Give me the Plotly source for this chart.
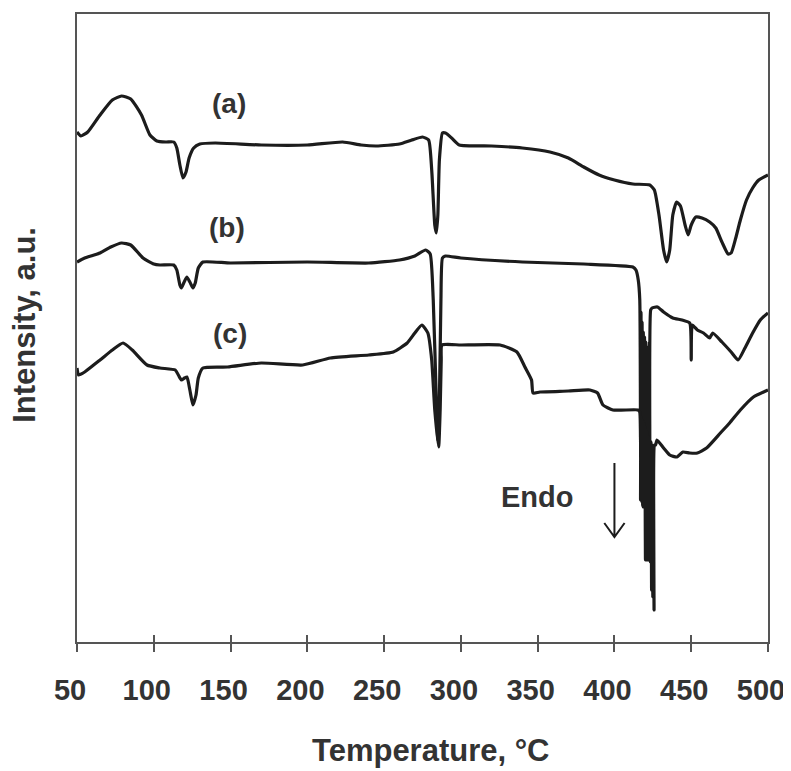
import plotly.graph_objects as go

# ---- data (temperature in °C, intensity in arbitrary units) ----
temp_a = [50, 52.5, 57, 65, 73, 79, 85, 92, 97.5, 102, 108, 113, 115, 117, 119, 121, 123, 126, 130, 140,
          170, 200, 223, 235, 245, 260, 268, 275, 279, 281, 283, 284, 285, 286, 288, 290, 294, 299, 320, 340,
          358, 370, 380, 390, 400, 412, 423, 426, 429, 432, 434, 436, 438, 440.5, 443, 446, 448, 450, 453, 457,
          462, 466, 470, 474, 476, 479, 482, 486, 490, 494, 500]
int_a = [51.0, 50.6, 51.0, 52.7, 54.2, 54.6, 54.3, 52.7, 50.7, 50.1, 50.0, 50.0, 49.4, 47.7, 46.4, 47.0, 48.4, 49.4, 49.8, 49.9,
         49.7, 49.7, 50.0, 49.7, 49.6, 49.8, 50.2, 50.5, 50.2, 47.2, 41.7, 40.9, 42.7, 48.2, 50.9, 50.9, 50.4, 49.7, 49.6, 49.4,
         49.0, 48.4, 47.5, 46.7, 46.2, 45.8, 45.7, 45.2, 42.7, 39.2, 38.0, 39.2, 42.7, 44.0, 43.6, 41.7, 40.7, 41.7, 42.5, 42.4,
         42.0, 41.4, 40.0, 38.8, 38.9, 40.4, 42.2, 44.2, 45.4, 46.2, 46.7]

temp_b = [50, 55, 65, 72, 79, 85, 93, 100, 104, 113, 115, 117, 118, 119.5, 121.5, 123.5, 125.5, 127, 129, 132,
          150, 200, 240, 260, 270, 277, 280, 282, 284, 285, 286, 287, 288, 290, 300, 340, 380, 412, 414, 415.5,
          416.5, 417, 417.3, 417.6, 418, 418.4, 418.8, 419.2, 419.6, 420, 420.4, 420.8, 421.2, 421.6, 422, 422.4,
          422.8, 423.2, 423.6, 424.5, 428, 432, 438, 444, 449, 450, 450.7, 454,
          458, 462, 464, 470, 476, 480.5, 485, 490, 495, 500]
int_b = [38.0, 38.4, 38.9, 39.5, 39.9, 39.7, 38.4, 37.8, 37.7, 37.7, 37.2, 35.7, 35.4, 35.9, 36.5, 36.0, 35.4, 35.9, 37.4, 38.0,
         37.9, 38.0, 37.9, 38.2, 38.6, 39.2, 38.8, 34.2, 24.2, 20.2, 24.2, 34.2, 38.4, 38.6, 38.4, 38.0, 37.8, 37.5, 37.2, 36.2,
         34.2, 20.0, 33.0, 14.2, 32.0, 13.7, 31.0, 13.7, 30.5, 13.7, 30.0, 13.5, 29.5, 13.5, 29.0, 8.2,
         30.0, 13.5, 33.2, 33.4, 33.5, 33.0, 32.4, 32.2, 31.9, 28.2, 31.7, 31.2,
         30.9, 30.4, 30.9, 30.0, 29.0, 28.2, 29.4, 30.9, 32.2, 32.9]

temp_c = [50, 51, 55, 65, 73, 80, 86, 95.6, 104, 114, 116, 118, 120, 121.6, 123.5, 125.5, 127.5, 129, 132, 148,
          170, 197, 215, 240, 256, 265, 270, 274.6, 278.5, 281, 283, 285.5, 286.5, 287.2, 287.7, 300, 325.5, 336.5, 341.7, 346,
          347, 351.5, 370, 384, 389, 392.5, 399, 415.4, 416.5, 417, 417.4, 417.8, 418.2, 418.6, 419, 419.4, 419.8, 420.2,
          420.6, 421, 421.4, 421.8, 422.2, 422.6, 423, 423.4, 423.8, 424.2, 424.6, 425, 425.4, 425.8, 426.2,
          426.8, 427.7, 432, 436, 440.7, 444.6, 449, 454, 460, 469, 475, 482, 490.5, 500]
int_c = [27.4, 26.7, 27.0, 28.2, 29.2, 29.9, 29.2, 27.7, 27.4, 27.2, 26.7, 26.2, 26.4, 26.5, 25.2, 23.7, 24.7, 26.4, 27.4, 27.5,
         27.9, 27.7, 28.4, 28.7, 29.0, 29.9, 30.9, 31.7, 30.9, 28.2, 23.2, 19.5, 23.2, 28.2, 29.7, 29.7, 29.7, 29.0, 27.5, 26.2,
         24.9, 25.0, 25.1, 25.2, 24.9, 23.7, 23.2, 23.2, 23.0, 14.2, 22.5, 14.0, 22.2, 13.5, 22.0, 13.5, 21.5, 8.2,
         21.2, 8.2, 21.0, 8.2, 20.5, 8.2, 20.2, 8.0, 20.0, 5.2, 19.7, 4.5, 19.5, 3.2, 19.7,
         19.7, 20.2, 19.4, 18.7, 18.5, 19.0, 18.9, 18.9, 19.4, 20.9, 21.9, 23.2, 24.5, 25.2]

x_ticks = [50, 100, 150, 200, 250, 300, 350, 400, 450, 500]
series_labels = ["(a)", "(b)", "(c)"]
label_pos = [(149, 53.9), (148, 41.5), (149.6, 30.9)]

LINE = "#1c1c1c"
AXIS = "#555555"
TXT = "#333333"
FONT = "Liberation Sans"

fig = go.Figure()
for t, v, name in [(temp_a, int_a, "(a)"), (temp_b, int_b, "(b)"), (temp_c, int_c, "(c)")]:
    fig.add_trace(go.Scatter(x=t, y=v, mode="lines", name=name,
                             line=dict(color=LINE, width=3.2, shape="spline", smoothing=0.5),
                             showlegend=False))
# invisible trace for the inside-tick overlay axis
fig.add_trace(go.Scatter(x=[x_ticks[0]], y=[0], xaxis="x2", mode="markers",
                         marker=dict(opacity=0), showlegend=False, hoverinfo="skip"))

for lab, (tx, ty) in zip(series_labels, label_pos):
    fig.add_annotation(x=tx, y=ty, text=lab, showarrow=False,
                       font=dict(family=FONT, size=28, color=TXT, weight="bold"))

fig.add_annotation(x=349.6, y=14.5, text="Endo", showarrow=False,
                   font=dict(family=FONT, size=29, color=TXT, weight="bold"))
fig.add_shape(type="path", path="M 400,17.9 L 400,10.5 M 393.4,11.9 L 400,10.5 L 406.6,11.9",
              line=dict(color=LINE, width=2))

fig.add_annotation(xref="paper", yref="paper", x=0.512, y=-0.172, text="Temperature, °C",
                   showarrow=False, xanchor="center", yanchor="middle",
                   font=dict(family=FONT, size=31, color=TXT, weight="bold"))
fig.add_annotation(xref="paper", yref="paper", x=-0.0753, y=0.505, text="Intensity, a.u.",
                   showarrow=False, textangle=-90, xanchor="center", yanchor="middle",
                   font=dict(family=FONT, size=31, color=TXT, weight="bold"))

fig.update_layout(
    width=783, height=763,
    margin=dict(l=69, r=23, t=6, b=129, autoexpand=False),
    paper_bgcolor="white", plot_bgcolor="white",
    xaxis=dict(range=[50, 500], tickvals=x_ticks, ticks="outside", ticklen=8, tickwidth=2,
               tickcolor=AXIS, showline=True, linecolor=AXIS, linewidth=2, mirror=True,
               showgrid=False, zeroline=False, ticklabelstandoff=13, ticklabelshift=-7,
               ticklabeloverflow="allow", automargin=False,
               tickfont=dict(family=FONT, size=29, color=TXT, weight="bold")),
    xaxis2=dict(range=[50, 500], overlaying="x", anchor="y", side="bottom",
                tickvals=x_ticks, ticks="inside", ticklen=7, tickwidth=2, tickcolor=AXIS,
                showticklabels=False, showline=False, showgrid=False, zeroline=False),
    yaxis=dict(range=[0, 62.8], showticklabels=False, ticks="", showline=True,
               linecolor=AXIS, linewidth=2, mirror=True, showgrid=False, zeroline=False),
)

fig.write_html("out.html")
